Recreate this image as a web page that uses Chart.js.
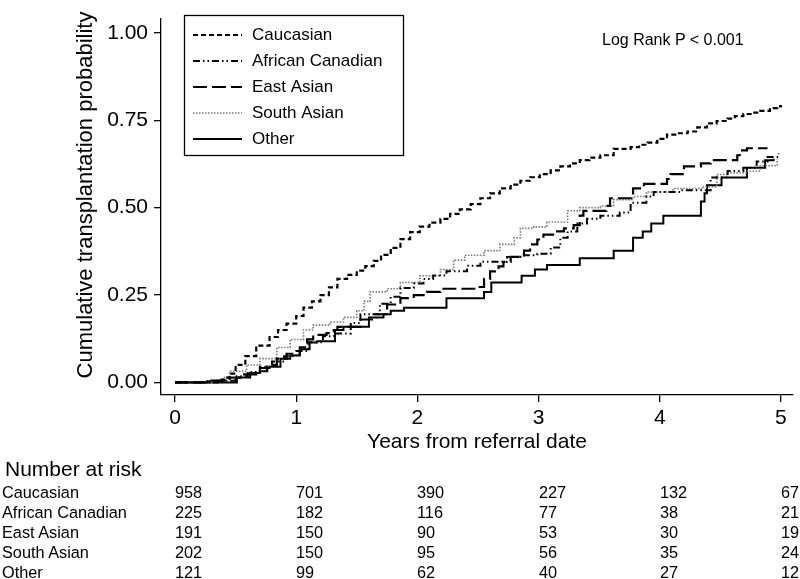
<!DOCTYPE html>
<html>
<head>
<meta charset="utf-8">
<script src="https://cdn.jsdelivr.net/npm/chart.js@4.4.1/dist/chart.umd.min.js"></script>
<style>
    html, body { margin: 0; padding: 0; background: #fff; }
    #wrap { position: relative; width: 800px; height: 579px; font-family: "Liberation Sans", Arial, sans-serif; color: #000; }
    #chart { position: absolute; left: 0; top: 0; }
    .txt { position: absolute; white-space: nowrap; line-height: 1; transform: translateY(-50%); }
</style>
</head>
<body>
<div id="wrap">
    <canvas id="chart" width="800" height="579"></canvas>
    <div class="txt" style="left:602px; top:40px; font-size:16px;">Log Rank P &lt; 0.001</div>
    <div id="risk"></div>
</div>
<script>
const FONT = '"Liberation Sans", Arial, sans-serif';

const groups = ['Caucasian', 'African Canadian', 'East Asian', 'South Asian', 'Other'];
const xTicks = [0, 1, 2, 3, 4, 5];
const yTicks = [0, 0.25, 0.5, 0.75, 1];

// step curves: time of each jump (years) and cumulative probability after it
const cauT = [0, 0.25, 0.37, 0.41, 0.45, 0.5, 0.58, 0.67, 0.78, 0.85, 0.92, 1.0, 1.06, 1.13, 1.2, 1.27, 1.34, 1.42, 1.5, 1.57, 1.64, 1.7, 1.78, 1.86, 1.94, 2.02, 2.1, 2.19, 2.27, 2.35, 2.44, 2.52, 2.6, 2.68, 2.77, 2.85, 2.93, 3.01, 3.1, 3.18, 3.26, 3.34, 3.42, 3.51, 3.62, 3.76, 3.83, 3.9, 3.98, 4.06, 4.14, 4.23, 4.31, 4.39, 4.47, 4.56, 4.62, 4.69, 4.76, 4.83, 4.91, 4.97, 5.0];
const cauP = [0, 0.003, 0.008, 0.014, 0.025, 0.05, 0.075, 0.105, 0.13, 0.15, 0.168, 0.19, 0.214, 0.232, 0.25, 0.272, 0.296, 0.308, 0.32, 0.333, 0.348, 0.365, 0.385, 0.41, 0.43, 0.446, 0.457, 0.468, 0.482, 0.495, 0.51, 0.527, 0.541, 0.555, 0.566, 0.577, 0.587, 0.596, 0.607, 0.618, 0.627, 0.636, 0.643, 0.65, 0.668, 0.673, 0.68, 0.686, 0.697, 0.709, 0.713, 0.718, 0.73, 0.741, 0.748, 0.755, 0.762, 0.768, 0.772, 0.777, 0.785, 0.79, 0.794];

const afrT = [0, 0.35, 0.5, 0.6, 0.7, 0.8, 0.9, 1.0, 1.1, 1.22, 1.31, 1.45, 1.53, 1.69, 1.78, 1.86, 1.97, 2.05, 2.13, 2.24, 2.41, 2.52, 2.74, 2.85, 2.99, 3.1, 3.18, 3.24, 3.32, 3.4, 3.51, 3.67, 3.76, 3.89, 3.95, 4.17, 4.42, 4.56, 4.69, 4.8, 4.89, 4.98];
const afrP = [0, 0.005, 0.018, 0.03, 0.045, 0.06, 0.075, 0.09, 0.115, 0.132, 0.14, 0.17, 0.195, 0.225, 0.245, 0.27, 0.283, 0.296, 0.306, 0.318, 0.334, 0.345, 0.359, 0.364, 0.368, 0.386, 0.414, 0.432, 0.455, 0.468, 0.477, 0.486, 0.514, 0.532, 0.545, 0.55, 0.586, 0.605, 0.614, 0.632, 0.645, 0.655];

const eastT = [0, 0.3, 0.45, 0.54, 0.67, 0.76, 0.84, 0.92, 1.03, 1.09, 1.14, 1.25, 1.31, 1.34, 1.53, 1.64, 1.75, 1.86, 1.97, 2.08, 2.19, 2.49, 2.55, 2.6, 2.67, 2.71, 2.77, 2.88, 2.93, 2.99, 3.04, 3.12, 3.21, 3.29, 3.34, 3.37, 3.56, 3.59, 3.78, 3.87, 4.06, 4.09, 4.2, 4.34, 4.42, 4.64, 4.66, 4.72, 4.89];
const eastP = [0, 0.005, 0.014, 0.023, 0.032, 0.05, 0.068, 0.082, 0.1, 0.123, 0.136, 0.141, 0.15, 0.159, 0.18, 0.195, 0.223, 0.241, 0.25, 0.259, 0.268, 0.273, 0.296, 0.318, 0.332, 0.345, 0.359, 0.377, 0.395, 0.409, 0.423, 0.432, 0.441, 0.45, 0.477, 0.491, 0.505, 0.527, 0.555, 0.568, 0.582, 0.596, 0.618, 0.627, 0.636, 0.65, 0.664, 0.67, 0.67];

const southT = [0, 0.3, 0.4, 0.45, 0.59, 0.7, 0.84, 0.95, 1.06, 1.14, 1.28, 1.39, 1.5, 1.56, 1.61, 1.75, 1.86, 2.02, 2.19, 2.3, 2.39, 2.55, 2.68, 2.8, 2.85, 2.96, 3.07, 3.24, 3.34, 3.51, 3.62, 3.78, 3.89, 4.11, 4.36, 4.47, 4.56, 4.72, 4.83, 4.97];
const southP = [0, 0.005, 0.015, 0.032, 0.05, 0.068, 0.1, 0.123, 0.15, 0.164, 0.173, 0.186, 0.205, 0.232, 0.259, 0.268, 0.286, 0.305, 0.323, 0.35, 0.364, 0.377, 0.395, 0.414, 0.441, 0.445, 0.459, 0.491, 0.5, 0.505, 0.523, 0.532, 0.545, 0.555, 0.559, 0.595, 0.6, 0.605, 0.62, 0.64];

const otherT = [0, 0.51, 0.62, 0.7, 0.78, 0.87, 0.95, 1.03, 1.11, 1.17, 1.32, 1.39, 1.6, 1.72, 1.78, 1.89, 2.24, 2.55, 2.61, 2.86, 2.97, 3.07, 3.34, 3.62, 3.78, 3.86, 3.93, 4.03, 4.34, 4.37, 4.39, 4.51, 4.72, 4.87, 4.94];
const otherP = [0, 0.014, 0.027, 0.041, 0.045, 0.068, 0.077, 0.095, 0.114, 0.118, 0.15, 0.159, 0.186, 0.195, 0.205, 0.214, 0.241, 0.259, 0.286, 0.305, 0.323, 0.336, 0.355, 0.377, 0.414, 0.432, 0.455, 0.477, 0.518, 0.541, 0.564, 0.586, 0.614, 0.636, 0.64];

// number at risk at each x tick
const riskCau = [958, 701, 390, 227, 132, 67];
const riskAfr = [225, 182, 116, 77, 38, 21];
const riskEast = [191, 150, 90, 53, 30, 19];
const riskSouth = [202, 150, 95, 56, 35, 24];
const riskOther = [121, 99, 62, 40, 27, 12];

const toPts = (t, p) => t.map((x, i) => ({ x: x, y: p[i] }));

const legendBox = {
    id: 'legendBox',
    afterDraw(chart) {
        const ctx = chart.ctx;
        ctx.save();
        ctx.strokeStyle = '#000';
        ctx.lineWidth = 1.3;
        ctx.strokeRect(184.5, 15.5, 219, 140);
        ctx.font = '17px ' + FONT;
        ctx.textBaseline = 'middle';
        chart.data.datasets.forEach((ds, i) => {
            const y = 35 + i * 26;
            ctx.setLineDash(ds.borderDash || []);
            ctx.strokeStyle = ds.borderColor;
            ctx.lineWidth = ds.borderWidth;
            ctx.beginPath();
            ctx.moveTo(193, y);
            ctx.lineTo(242, y);
            ctx.stroke();
            ctx.setLineDash([]);
            ctx.fillStyle = '#000';
            ctx.fillText(ds.label, 252, y);
        });
        // y axis title, placed by hand so it sits a little above the axis centre
        ctx.font = '22px ' + FONT;
        ctx.textAlign = 'center';
        ctx.textBaseline = 'alphabetic';
        ctx.translate(92, 195);
        ctx.rotate(-Math.PI / 2);
        ctx.fillText('Cumulative transplantation probability', 0, 0);
        ctx.restore();
    }
};

const chart = new Chart(document.getElementById('chart'), {
    type: 'line',
    data: {
        datasets: [
            { label: groups[0], data: toPts(cauT, cauP), borderColor: '#000', borderWidth: 2.2, borderDash: [5, 3] },
            { label: groups[1], data: toPts(afrT, afrP), borderColor: '#000', borderWidth: 2, borderDash: [7, 3, 1.5, 3, 1.5, 3] },
            { label: groups[2], data: toPts(eastT, eastP), borderColor: '#000', borderWidth: 2.2, borderDash: [14, 5] },
            { label: groups[3], data: toPts(southT, southP), borderColor: '#777', borderWidth: 1.6, borderDash: [1.5, 1.5] },
            { label: groups[4], data: toPts(otherT, otherP), borderColor: '#000', borderWidth: 2 }
        ]
    },
    options: {
        responsive: false,
        animation: false,
        parsing: true,
        datasets: { line: { stepped: true, pointRadius: 0, fill: false, tension: 0 } },
        layout: { autoPadding: false, padding: { left: 70, right: 7, top: 0, bottom: 122 } },
        plugins: { legend: { display: false }, tooltip: { enabled: false } },
        scales: {
            x: {
                type: 'linear',
                min: -0.116,
                max: 5.1,
                afterBuildTicks: s => { s.ticks = xTicks.map(v => ({ value: v })); },
                afterFit: s => { s.height = 62; },
                ticks: { font: { size: 21, family: FONT }, color: '#000', padding: 4, maxRotation: 0, callback: v => String(v) },
                grid: { drawOnChartArea: false, drawTicks: true, tickLength: 7, color: '#000', lineWidth: 1.3 },
                border: { display: true, color: '#000', width: 1.3 },
                title: { display: true, text: 'Years from referral date', font: { size: 21, family: FONT }, color: '#000', padding: { top: 0, bottom: 2 } }
            },
            y: {
                type: 'linear',
                min: -0.036,
                max: 1.041,
                afterBuildTicks: s => { s.ticks = yTicks.map(v => ({ value: v })); },
                afterFit: s => { s.width = 91; },
                ticks: { font: { size: 21, family: FONT }, color: '#000', padding: 6, callback: v => v.toFixed(2) },
                grid: { drawOnChartArea: false, drawTicks: true, tickLength: 7, color: '#000', lineWidth: 1.3 },
                border: { display: true, color: '#000', width: 1.3 },
                title: { display: false }
            }
        }
    },
    plugins: [legendBox]
});

// number at risk table, columns aligned with the x ticks
const risk = document.getElementById('risk');
const riskRows = [riskCau, riskAfr, riskEast, riskSouth, riskOther];
function addText(txt, left, top, size) {
    const d = document.createElement('div');
    d.className = 'txt';
    d.textContent = txt;
    d.style.left = left + 'px';
    d.style.top = top + 'px';
    d.style.fontSize = size + 'px';
    risk.appendChild(d);
}
addText('Number at risk', 5, 468, 21);
riskRows.forEach((row, r) => {
    const y = 492 + r * 20;
    addText(groups[r], 2, y, 16.3);
    row.forEach((n, c) => {
        addText(String(n), Math.round(chart.scales.x.getPixelForValue(xTicks[c])), y, 16.3);
    });
});
</script>
</body>
</html>
